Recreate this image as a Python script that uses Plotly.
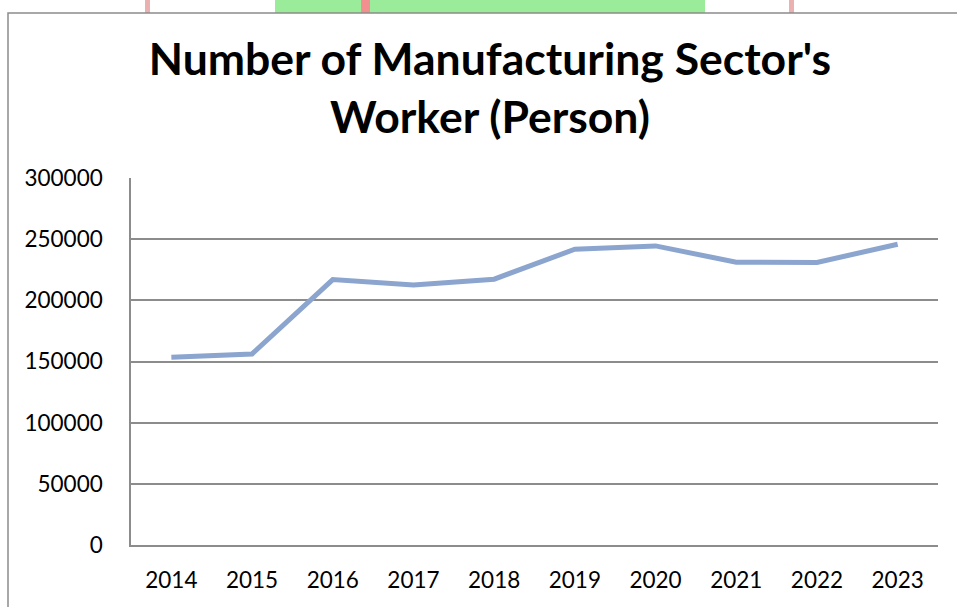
import plotly.graph_objects as go

years = ["2014", "2015", "2016", "2017", "2018", "2019", "2020", "2021", "2022", "2023"]
workers = [153500, 156200, 217000, 212500, 217300, 241800, 244500, 231200, 231000, 245800]
y_ticks = [0, 50000, 100000, 150000, 200000, 250000, 300000]

W, H = 957, 607
L, R, T, B = 131, 19, 178, 62
pw, ph = W - L - R, H - T - B

def px(x):
    return (x - L) / pw

def py(y):
    return (H - B - y) / ph

fig = go.Figure()
fig.add_trace(go.Scatter(
    x=years, y=workers, mode="lines",
    line=dict(color="#8BA5CF", width=5),
    hoverinfo="x+y", showlegend=False,
))

grid = "#8C8C8C"
fig.update_layout(
    width=W, height=H,
    margin=dict(l=L, r=R, t=T, b=B, autoexpand=False),
    paper_bgcolor="white", plot_bgcolor="white",
    font=dict(family="Lato, 'Open Sans', sans-serif", color="black", size=22.5),
    title=dict(
        text="<b>Number of Manufacturing Sector's<br>Worker (Person)</b>",
        x=490 / W, xanchor="center",
        y=1 - 75 / H, yanchor="middle", yref="container",
        font=dict(family="Lato, 'Open Sans', sans-serif", size=44.5, color="black"),
    ),
    xaxis=dict(
        type="category", range=[-0.5, 9.5], showgrid=False,
        showline=True, linecolor=grid, linewidth=1.5,
        ticks="", ticklabelstandoff=14, tickfont=dict(size=22.5),
    ),
    yaxis=dict(
        range=[0, 300000], tickvals=y_ticks, ticktext=[str(v) for v in y_ticks],
        showgrid=True, gridcolor=grid, gridwidth=1.5,
        showline=True, linecolor=grid, linewidth=1.5,
        zeroline=False, ticks="", ticklabelstandoff=22, tickfont=dict(size=22.5),
    ),
    shapes=[
        # watermark remnants at top
        dict(type="rect", xref="paper", yref="paper", x0=px(275), x1=px(705), y0=py(13), y1=py(0),
             fillcolor="#9AEB9A", line=dict(width=0), layer="below"),
        dict(type="rect", xref="paper", yref="paper", x0=px(145), x1=px(150), y0=py(13), y1=py(0),
             fillcolor="#EBB0B0", line=dict(width=0), layer="below"),
        dict(type="rect", xref="paper", yref="paper", x0=px(789), x1=px(794), y0=py(13), y1=py(0),
             fillcolor="#EBB0B0", line=dict(width=0), layer="below"),
        dict(type="rect", xref="paper", yref="paper", x0=px(361), x1=px(370), y0=py(13), y1=py(0),
             fillcolor="#F29090", line=dict(width=0), layer="below"),
        # outer chart border
        dict(type="rect", xref="paper", yref="paper", x0=px(8), x1=px(1010), y0=py(620), y1=py(13),
             line=dict(color="#8C8C8C", width=1.5), fillcolor="rgba(0,0,0,0)"),
    ],
)

fig.write_html("out.html")
